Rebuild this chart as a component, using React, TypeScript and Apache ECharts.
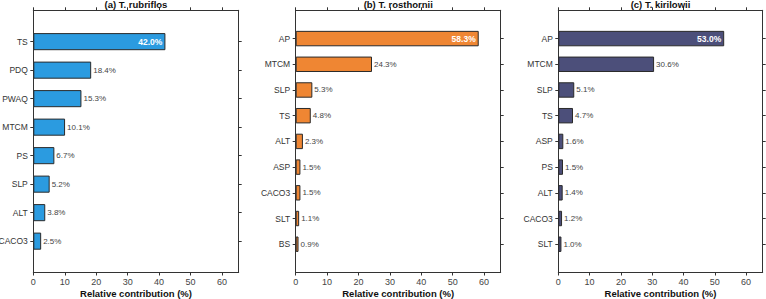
import { useEffect, useRef } from 'react';
import * as echarts from 'echarts';

// Relative contribution (%) of each predictor, per species
const xTicks = [0, 10, 20, 30, 40, 50, 60];
const xMax = 65.3;

const catsA = ['TS', 'PDQ', 'PWAQ', 'MTCM', 'PS', 'SLP', 'ALT', 'CACO3'];
const valsA = [42.0, 18.4, 15.3, 10.1, 6.7, 5.2, 3.8, 2.5];

const catsB = ['AP', 'MTCM', 'SLP', 'TS', 'ALT', 'ASP', 'CACO3', 'SLT', 'BS'];
const valsB = [58.3, 24.3, 5.3, 4.8, 2.3, 1.5, 1.5, 1.1, 0.9];

const catsC = ['AP', 'MTCM', 'SLP', 'TS', 'ASP', 'PS', 'ALT', 'CACO3', 'SLT'];
const valsC = [53.0, 30.6, 5.1, 4.7, 1.6, 1.5, 1.4, 1.2, 1.0];

const titles = ['(a) T. rubriflos', '(b) T. rosthornii', '(c) T. kirilowii'];
const barColors = ['#2b9be0', '#ef8633', '#4c4f7a'];
const axisName = 'Relative contribution (%)';

const FONT = '"Liberation Sans", Arial, Helvetica, sans-serif';
const AXIS_COLOR = '#333333';

const panelBoxes = [
  { left: 33.3, width: 205.4 },
  { left: 295.7, width: 205.0 },
  { left: 558.3, width: 204.4 },
];
const BOX_TOP = 10.3;
const BOX_HEIGHT = 262.2;

function buildOption() {
  const cats = [catsA, catsB, catsC];
  const vals = [valsA, valsB, valsC];
  const grids: any[] = [];
  const xAxes: any[] = [];
  const yAxes: any[] = [];
  const series: any[] = [];
  const graphics: any[] = [];

  cats.forEach((c, i) => {
    const box = panelBoxes[i];
    const n = c.length;
    const step = BOX_HEIGHT / (n + 1.2);
    // outer frame grid
    grids.push({
      left: box.left, top: BOX_TOP, width: box.width, height: BOX_HEIGHT,
      outerBoundsMode: 'none', containLabel: false,
    });
    // inner grid holding the category bands
    grids.push({
      left: box.left, top: BOX_TOP + 0.6 * step, width: box.width, height: n * step,
      outerBoundsMode: 'none', containLabel: false,
    });
    const outer = 2 * i;
    const inner = 2 * i + 1;

    const line = { show: true, onZero: false, lineStyle: { color: AXIS_COLOR, width: 1 } };
    xAxes.push({
      type: 'value', gridIndex: outer, position: 'bottom', min: 0, max: xMax,
      axisLine: line,
      axisTick: { show: true, length: 3, customValues: xTicks, lineStyle: { color: AXIS_COLOR } },
      axisLabel: { customValues: xTicks, fontSize: 9, color: '#444', margin: 5, fontFamily: FONT },
      splitLine: { show: false },
      name: axisName, nameLocation: 'middle', nameGap: 15.5, nameMoveOverlap: false,
      nameTextStyle: {
        fontSize: 9.5, fontWeight: 'bold', color: '#111', fontFamily: FONT, verticalAlign: 'top',
      },
    });
    xAxes.push({
      type: 'value', gridIndex: outer, position: 'top', min: 0, max: xMax,
      axisLine: line,
      axisTick: { show: true, length: 3, customValues: xTicks, lineStyle: { color: AXIS_COLOR } },
      axisLabel: { show: false },
      splitLine: { show: false },
    });
    xAxes.push({
      type: 'value', gridIndex: inner, min: 0, max: xMax, show: false, splitLine: { show: false },
    });

    yAxes.push({
      type: 'value', gridIndex: outer, position: 'left', min: 0, max: 1,
      axisLine: line, axisTick: { show: false }, axisLabel: { show: false }, splitLine: { show: false },
    });
    yAxes.push({
      type: 'value', gridIndex: outer, position: 'right', min: 0, max: 1,
      axisLine: line, axisTick: { show: false }, axisLabel: { show: false }, splitLine: { show: false },
    });
    yAxes.push({
      type: 'category', gridIndex: inner, position: 'left', data: c, inverse: true,
      axisLine: { show: false, onZero: false },
      axisTick: { show: true, alignWithLabel: true, length: 3, lineStyle: { color: AXIS_COLOR } },
      axisLabel: { fontSize: 8.5, color: '#333', margin: 5.5, fontFamily: FONT },
      splitLine: { show: false },
    });
    yAxes.push({
      type: 'category', gridIndex: inner, position: 'right', data: c, inverse: true,
      axisLine: { show: false, onZero: false },
      axisTick: { show: true, alignWithLabel: true, length: 3, lineStyle: { color: AXIS_COLOR } },
      axisLabel: { show: false },
      splitLine: { show: false },
    });

    series.push({
      type: 'bar',
      xAxisIndex: 3 * i + 2,
      yAxisIndex: 4 * i + 2,
      barWidth: 0.6 * step,
      itemStyle: { color: barColors[i], borderColor: '#2a2a2a', borderWidth: 1 },
      label: {
        show: true, position: 'right', distance: 2, fontSize: 8, color: '#444', fontFamily: FONT,
        formatter: (p: any) => `${Number(p.value).toFixed(1)}%`,
      },
      data: vals[i].map((v, k) =>
        k === 0
          ? {
              value: v,
              label: {
                position: 'insideRight', distance: 3, color: '#ffffff', fontWeight: 'bold', fontSize: 8.5,
              },
            }
          : v
      ),
    });

    graphics.push({
      type: 'text',
      x: box.left + box.width / 2,
      y: 4.5,
      z: 10,
      style: {
        text: titles[i], align: 'center', verticalAlign: 'middle',
        fontSize: 9.5, fontWeight: 'bold', fill: '#111', fontFamily: FONT,
      },
    });
  });

  return {
    animation: false,
    backgroundColor: '#ffffff',
    textStyle: { fontFamily: FONT },
    grid: grids,
    xAxis: xAxes,
    yAxis: yAxes,
    series,
    graphic: graphics,
  };
}

export default function App() {
  const ref = useRef<HTMLDivElement | null>(null);
  useEffect(() => {
    if (!ref.current) return;
    const chart = echarts.init(ref.current, undefined, { renderer: 'svg' });
    chart.setOption(buildOption());
    return () => chart.dispose();
  }, []);
  return (
    <div
      ref={ref}
      style={{ position: 'fixed', left: 0, top: 0, width: 766, height: 299, background: '#fff' }}
    />
  );
}
